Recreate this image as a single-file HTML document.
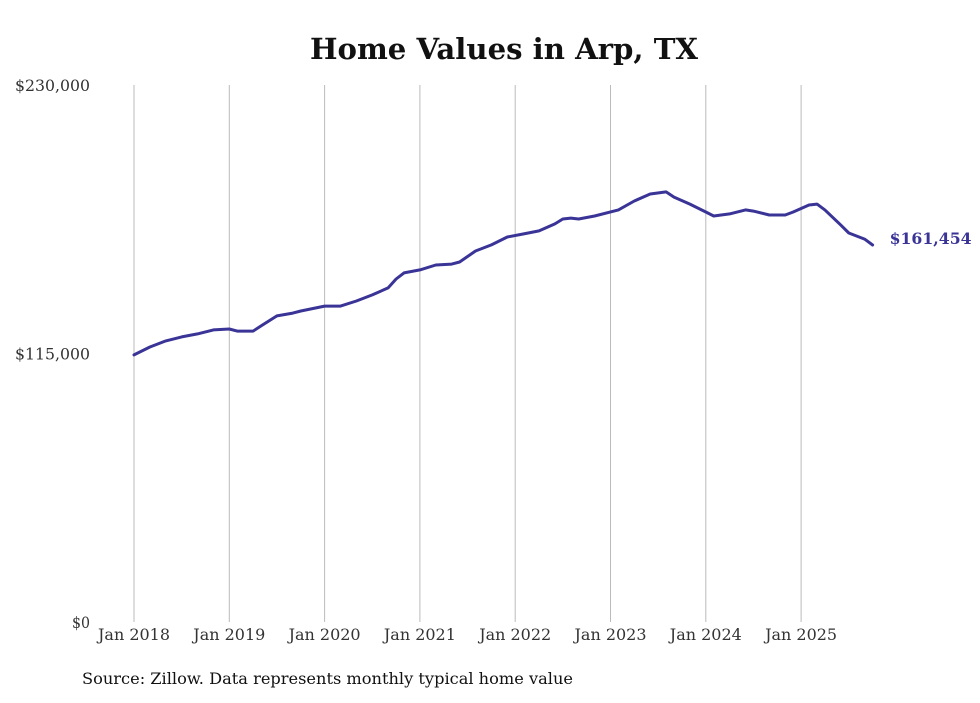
<!DOCTYPE html>
<html><head><meta charset="utf-8">
<style>
body{margin:0;background:#fff;width:980px;height:699px;overflow:hidden;font-family:"DejaVu Serif","Liberation Serif",serif;}
</style></head>
<body>
<svg id="chart" width="980" height="699" xmlns="http://www.w3.org/2000/svg">
<text x="310" y="59" font-size="29" font-weight="bold" fill="#111" textLength="388" lengthAdjust="spacingAndGlyphs">Home Values in Arp, TX</text>
<g id="grid"></g>
<g id="yticks"></g>
<g id="xticks"></g>
<path id="line" fill="none" stroke="#3a3497" stroke-width="3" stroke-linejoin="round" stroke-linecap="round"/>
<text id="endlabel" font-size="16" font-weight="bold" fill="#3a3497" textLength="82" lengthAdjust="spacingAndGlyphs"></text>
<text x="82" y="684" font-size="16" fill="#111" textLength="491" lengthAdjust="spacingAndGlyphs">Source: Zillow. Data represents monthly typical home value</text>
</svg>
<script>
const months=[0,2,4,6,8,10,12,13,15,16,18,20,21,24,26,28,30,32,33,34,36,38,40,41,43,45,47,49,51,53,54,55,56,58,61,63,65,67,68,70,72,73,75,77,78,80,82,83,85,86,87,89,90,92,93];
const values=[114400,117800,120400,122100,123400,125100,125500,124600,124600,126800,131100,132300,133200,135300,135300,137500,140100,143100,146900,149500,150800,152900,153300,154200,158900,161500,164900,166200,167500,170500,172600,173000,172600,173900,176500,180300,183300,184200,182000,179000,175600,173900,174800,176500,176000,174300,174300,175600,178600,179000,176500,170000,166600,164000,161454];
const xLabels=["Jan 2018","Jan 2019","Jan 2020","Jan 2021","Jan 2022","Jan 2023","Jan 2024","Jan 2025"];
const yTicks=[0,115000,230000];
const yLabels=["$0","$115,000","$230,000"];
const ns="http://www.w3.org/2000/svg";
const x=m=>134+m*(95.3/12);
const y=v=>622-v*(537/230000);
const grid=document.getElementById('grid'),xt=document.getElementById('xticks'),yt=document.getElementById('yticks');
xLabels.forEach((l,i)=>{
 const ln=document.createElementNS(ns,'line');
 
 
 ln.setAttribute('x1',x(i*12));ln.setAttribute('x2',x(i*12));ln.setAttribute('y1',85);ln.setAttribute('y2',622);
 ln.setAttribute('stroke','#bbb');ln.setAttribute('stroke-width','1');
 grid.appendChild(ln);
 const t=document.createElementNS(ns,'text');
 
 
 t.setAttribute('x',x(i*12)-36);t.setAttribute('y',640);
 t.setAttribute('textLength','72');t.setAttribute('lengthAdjust','spacingAndGlyphs');
 t.setAttribute('font-size','16');t.setAttribute('fill','#333');t.textContent=l;
 xt.appendChild(t);
});
yTicks.forEach((v,i)=>{
 const t=document.createElementNS(ns,'text');
 
 
 const w=v===0?18:75;
 t.setAttribute('x',90-w);t.setAttribute('y',y(v)+6);
 t.setAttribute('textLength',w);t.setAttribute('lengthAdjust','spacingAndGlyphs');
 t.setAttribute('font-size','16');t.setAttribute('fill','#333');t.textContent=yLabels[i];
 yt.appendChild(t);
});
let d='';
months.forEach((m,i)=>{d+=(i?'L':'M')+x(m).toFixed(1)+','+y(values[i]).toFixed(1);});
document.getElementById('line').setAttribute('d',d);
const el=document.getElementById('endlabel');
const last=values.length-1;
el.setAttribute('x',x(months[last])+17);el.setAttribute('y',y(values[last])-1);
el.textContent='$'+values[last].toLocaleString('en-US');
</script>
</body></html>
